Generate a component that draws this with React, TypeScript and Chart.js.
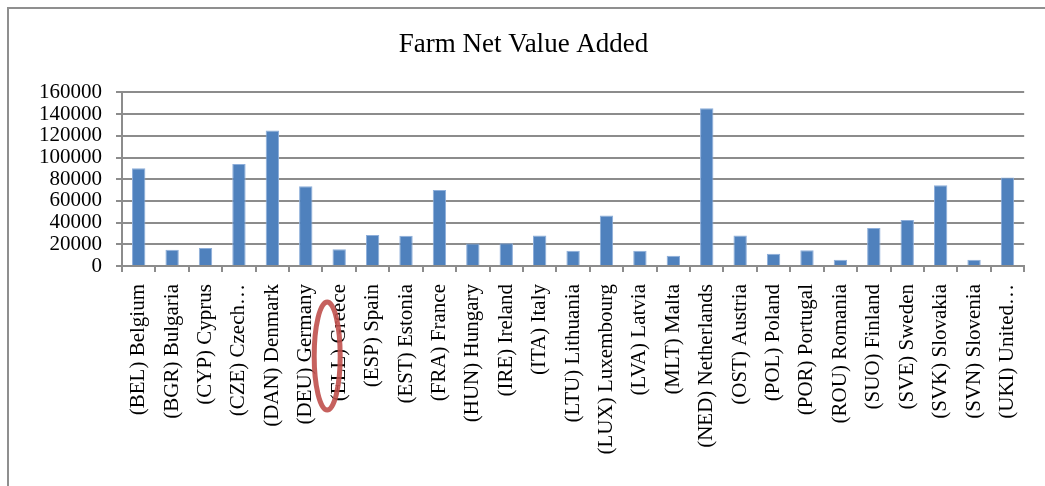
import React, { useEffect, useRef } from "react";
import { Chart, registerables } from "chart.js";

Chart.register(...registerables);

const chartTitle = "Farm Net Value Added";

const categories: string[] = [
  "(BEL) Belgium",
  "(BGR) Bulgaria",
  "(CYP) Cyprus",
  "(CZE) Czech…",
  "(DAN) Denmark",
  "(DEU) Germany",
  "(ELL) Greece",
  "(ESP) Spain",
  "(EST) Estonia",
  "(FRA) France",
  "(HUN) Hungary",
  "(IRE) Ireland",
  "(ITA) Italy",
  "(LTU) Lithuania",
  "(LUX) Luxembourg",
  "(LVA) Latvia",
  "(MLT) Malta",
  "(NED) Netherlands",
  "(OST) Austria",
  "(POL) Poland",
  "(POR) Portugal",
  "(ROU) Romania",
  "(SUO) Finland",
  "(SVE) Sweden",
  "(SVK) Slovakia",
  "(SVN) Slovenia",
  "(UKI) United…",
];

const farmNetValueAdded: number[] = [
  90000, 15000, 16500, 94000, 125000, 73500, 15500, 28500, 27800, 70000,
  20700, 20900, 28000, 14000, 46500, 14000, 9500, 145500, 28000, 11300,
  14500, 5800, 35000, 42500, 74500, 5800, 81500,
];

const yMin = 0;
const yMax = 160000;
const yStep = 20000;

const highlightIndex = 6; // ELL label circled in the reference

const FONT = "'Liberation Serif', 'Times New Roman', serif";
const GRID = "#8c8c8c";

const decorPlugin = {
  id: "decor",
  afterDraw(chart: any) {
    const ctx = chart.ctx;
    ctx.save();
    // outer frame (only left and top visible in reference)
    ctx.strokeStyle = "#8f8f8f";
    ctx.lineWidth = 2;
    ctx.beginPath();
    ctx.moveTo(8, chart.height);
    ctx.lineTo(8, 8);
    ctx.lineTo(chart.width, 8);
    ctx.stroke();

    // red ellipse annotation around a label
    const xs = chart.scales.x;
    const cx = xs.getPixelForValue(highlightIndex) - 12;
    const cy = 356;
    ctx.strokeStyle = "rgba(192, 80, 77, 0.9)";
    ctx.lineWidth = 5;
    ctx.beginPath();
    ctx.ellipse(cx, cy, 13, 54, 0, 0, Math.PI * 2);
    ctx.stroke();
    ctx.restore();
  },
};

export default function App() {
  const ref = useRef<HTMLCanvasElement | null>(null);

  useEffect(() => {
    if (!ref.current) return;
    const chart = new Chart(ref.current, {
      type: "bar",
      data: {
        labels: categories,
        datasets: [
          {
            label: chartTitle,
            data: farmNetValueAdded,
            backgroundColor: "#4F81BD",
            borderColor: "#8DAEDA",
            borderWidth: 1,
            categoryPercentage: 1,
            barPercentage: 0.4,
          },
        ],
      },
      options: {
        responsive: false,
        animation: false,
        layout: { padding: { left: 20, right: 18, top: 24, bottom: 0 } },
        plugins: {
          legend: { display: false },
          tooltip: { enabled: false },
          title: {
            display: true,
            text: chartTitle,
            color: "#000",
            font: { family: FONT, size: 27, weight: "normal" },
            padding: { top: 5, bottom: 31 },
          },
        },
        scales: {
          x: {
            grid: {
              display: true,
              drawOnChartArea: false,
              drawTicks: true,
              tickLength: 6,
              color: GRID,
              lineWidth: 2,
              offset: true,
            },
            border: { display: true, color: GRID, width: 2 },
            ticks: {
              autoSkip: false,
              minRotation: 90,
              maxRotation: 90,
              color: "#000",
              padding: 12,
              font: { family: FONT, size: 21 },
            },
            afterFit(scale: any) {
              scale.height = 486 - 266;
            },
          },
          y: {
            min: yMin,
            max: yMax,
            grid: {
              color: GRID,
              lineWidth: 2,
              tickLength: 6,
            },
            border: { display: true, color: GRID, width: 2 },
            ticks: {
              stepSize: yStep,
              autoSkip: false,
              color: "#000",
              padding: 14,
              font: { family: FONT, size: 21 },
              callback: (v: any) => String(v),
            },
            afterFit(scale: any) {
              scale.width = 122 - 20;
            },
          },
        },
      },
      plugins: [decorPlugin],
    });
    return () => chart.destroy();
  }, []);

  return (
    <div style={{ position: "absolute", left: 0, top: 0, width: 1045, height: 486, background: "#fff" }}>
      <canvas ref={ref} width={1045} height={486} />
    </div>
  );
}
